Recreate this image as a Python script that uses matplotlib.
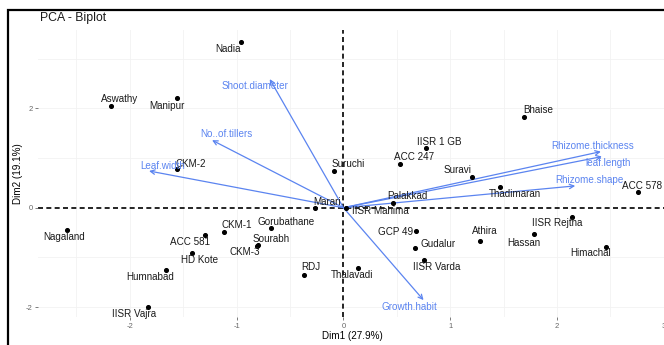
import matplotlib.pyplot as plt
from matplotlib.patches import Rectangle

plt.rcParams['font.family'] = ['Liberation Sans', 'DejaVu Sans']
plt.rcParams['axes.unicode_minus'] = False

# individuals (PCA scores)
names = ["Nadia", "Aswathy", "Manipur", "CKM-2", "Suruchi", "Bhaise", "IISR 1 GB",
         "ACC 247", "Suravi", "Thadimaran", "ACC 578", "Palakkad", "IISR Mahima",
         "Marari", "IISR Rejtha", "GCP 49", "Athira", "Hassan", "Gudalur", "Himachal",
         "IISR Varda", "Thalavadi", "Nagaland", "ACC 581", "CKM-1", "Gorubathane",
         "Sourabh", "CKM-3", "HD Kote", "Humnabad", "RDJ", "IISR Vajra"]
dim1 = [-0.96, -2.18, -1.56, -1.56, -0.09, 1.69, 0.77,
        0.53, 1.20, 1.47, 2.76, 0.46, 0.02,
        -0.27, 2.14, 0.68, 1.28, 1.78, 0.67, 2.46,
        0.75, 0.135, -2.59, -1.30, -1.12, -0.68,
        -0.81, -0.80, -1.42, -1.66, -0.37, -1.83]
dim2 = [3.33, 2.05, 2.21, 0.78, 0.73, 1.83, 1.21,
        0.88, 0.62, 0.42, 0.32, 0.10, -0.01,
        0.0, -0.18, -0.46, -0.67, -0.53, -0.81, -0.79,
        -1.06, -1.22, -0.45, -0.54, -0.49, -0.40,
        -0.77, -0.76, -0.92, -1.25, -1.36, -1.99]

# variables (arrows)
var_names = ["Shoot.diameter", "No..of.tillers", "Leaf.width", "Rhizome.thickness",
             "leaf.length", "Rhizome.shape", "Growth.habit"]
var_x = [-0.69, -1.23, -1.82, 2.41, 2.42, 2.17, 0.75]
var_y = [2.59, 1.36, 0.74, 1.13, 1.03, 0.44, -1.86]

# label offsets in pixels (dx right, dy down)
lab_off = {"Nadia": (-13, 7), "Aswathy": (9, -7), "Manipur": (-10, 8), "CKM-2": (14, -5),
           "Suruchi": (14, -7), "Bhaise": (14, -7), "IISR 1 GB": (14, -6),
           "ACC 247": (14, -7), "Suravi": (-14, -7), "Thadimaran": (14, 7),
           "ACC 578": (4, -6), "Palakkad": (15, -7), "IISR Mahima": (35, 3),
           "Marari": (12, -6), "IISR Rejtha": (-15, 6), "GCP 49": (-21, 1),
           "Athira": (5, -10), "Hassan": (-10, 9), "Gudalur": (23, -4),
           "Himachal": (-16, 6), "IISR Varda": (13, 7), "Thalavadi": (-6, 7),
           "Nagaland": (-3, 7), "ACC 581": (-15, 7), "CKM-1": (13, -7),
           "Gorubathane": (15, -6), "Sourabh": (14, -7), "CKM-3": (-13, 7),
           "HD Kote": (8, 7), "Humnabad": (-16, 7), "RDJ": (7, -8), "IISR Vajra": (-14, 7)}
var_off = {"Shoot.diameter": (-15, 7), "No..of.tillers": (14, -6), "Leaf.width": (14, -5),
           "Rhizome.thickness": (-8, -6), "leaf.length": (6, 6), "Rhizome.shape": (14, -6),
           "Growth.habit": (-14, 7)}

blue = "#5b84f0"

fig = plt.figure(figsize=(6.64, 3.45), dpi=100)
ax = fig.add_axes([0.0572, 0.0812, 0.9458, 0.832])
ax.set_xlim(-2.86, 3.02)
ax.set_ylim(-2.20, 3.58)

# faint grid
for gx in [-2.5, -2, -1.5, -1, -0.5, 0.5, 1, 1.5, 2, 2.5, 3]:
    ax.axvline(gx, color="#f2f2f2", lw=0.6, zorder=0)
for gy in [-2, -1, 1, 2, 3]:
    ax.axhline(gy, color="#f2f2f2", lw=0.6, zorder=0)

ax.axhline(0, color="black", ls=(0, (3, 2)), lw=1.2, zorder=1)
ax.axvline(0, color="black", ls=(0, (3, 2)), lw=1.2, zorder=1)

ax.scatter(dim1, dim2, s=7, color="black", zorder=3)
for n, x, y in zip(names, dim1, dim2):
    dx, dy = lab_off[n]
    ax.annotate(n, (x, y), xytext=(dx, -dy), textcoords="offset pixels",
                ha="center", va="center", fontsize=7.1, color="#1a1a1a", zorder=4)

for n, x, y in zip(var_names, var_x, var_y):
    ax.annotate("", xy=(x, y), xytext=(0, 0),
                arrowprops=dict(arrowstyle="->", color=blue, lw=0.9,
                                shrinkA=0, shrinkB=0, mutation_scale=8), zorder=2)
    dx, dy = var_off[n]
    ax.annotate(n, (x, y), xytext=(dx, -dy), textcoords="offset pixels",
                ha="center", va="center", fontsize=7.1, color=blue, zorder=4)

for s in ax.spines.values():
    s.set_visible(False)
ax.set_xticks([-2, -1, 0, 1, 2, 3])
ax.set_yticks([-2, 0, 2])
ax.tick_params(colors="#666666", labelsize=5.5, length=2, width=0.6, pad=2)
ax.set_xlabel("Dim1 (27.9%)", fontsize=7.1, labelpad=1)
ax.set_ylabel("Dim2 (19.1%)", fontsize=7.1, labelpad=2)
fig.text(40 / 664, 1 - 18 / 345, "PCA - Biplot", fontsize=8.8, color="#1a1a1a",
         ha="left", va="center")

# screenshot frame
fig.add_artist(Rectangle((8 / 664, -0.1), 1.2, 1.1 - 10 / 345, fill=False,
                         lw=1.6, edgecolor="black", transform=fig.transFigure))

fig.savefig("out.png", dpi=100)
